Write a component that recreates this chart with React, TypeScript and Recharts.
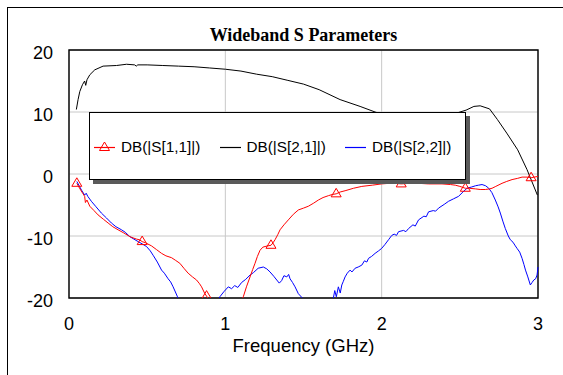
import React from 'react'
import {
  LineChart,
  Line,
  XAxis,
  YAxis,
  CartesianGrid,
  Legend,
  ReferenceArea,
  Label,
} from 'recharts'

// S11 (input return loss), GHz / dB
const S11_FREQ = [
  0.05, 0.07, 0.09, 0.1, 0.105, 0.115, 0.133, 0.16, 0.186, 0.22, 0.25, 0.28, 0.314, 0.35, 0.389, 0.41,
  0.432, 0.45, 0.468, 0.49, 0.528, 0.56, 0.592, 0.62, 0.656, 0.68, 0.709, 0.735, 0.762, 0.79, 0.816,
  0.835, 0.848, 0.869, 0.88, 0.9, 0.92, 1.08, 1.1, 1.115, 1.135, 1.158, 1.175, 1.19, 1.205, 1.222, 1.24,
  1.254, 1.27, 1.292, 1.305, 1.318, 1.335, 1.35, 1.375, 1.403, 1.435, 1.467, 1.5, 1.531, 1.565, 1.595,
  1.625, 1.659, 1.685, 1.709, 1.735, 1.766, 1.82, 1.873, 1.94, 2.0, 2.05, 2.087, 2.125, 2.18, 2.234,
  2.3, 2.386, 2.44, 2.471, 2.5, 2.535, 2.56, 2.6, 2.63, 2.663, 2.69, 2.706, 2.73, 2.77, 2.8, 2.834,
  2.87, 2.898, 2.93, 2.956, 2.975, 3.0,
]
const S11_DB = [
  -1.5, -2.4, -3.2, -3.6, -4.6, -4.2, -5.2, -5.9, -6.6, -7.3, -7.9, -8.5, -9.0, -9.5, -10.1, -10.3,
  -10.5, -10.6, -10.9, -11.1, -11.6, -12.2, -12.8, -13.2, -13.5, -13.9, -14.4, -15.2, -16.0, -16.6, -17.1,
  -17.7, -18.2, -19.3, -19.7, -20.5, -21.5, -21.5, -20.5, -19.8, -18.2, -16.6, -15.4, -14.4, -13.3, -12.3, -11.8,
  -11.7, -11.6, -11.5, -11.1, -10.6, -9.8, -9.0, -8.2, -7.4, -6.5, -5.8, -5.5, -5.2, -4.7, -4.2,
  -3.8, -3.5, -3.3, -3.2, -2.9, -2.7, -2.3, -2.0, -1.8, -1.6, -1.5, -1.5, -1.6, -1.5, -1.5,
  -1.6, -1.6, -1.7, -1.8, -2.0, -2.3, -2.3, -2.4, -2.5, -2.5, -2.4, -2.3, -2.0, -1.5, -1.2, -0.9,
  -0.7, -0.5, -0.5, -0.6, -0.5, -0.4,
]
// frequencies that carry a triangle marker on S11
const S11_MARKERS = [0.05, 0.468, 0.88, 1.292, 1.709, 2.125, 2.535, 2.956]

// S21 (gain)
const S21_FREQ = [
  0.047, 0.058, 0.069, 0.086, 0.1, 0.107, 0.115, 0.133, 0.165, 0.218, 0.304, 0.368, 0.42, 0.43, 0.44,
  0.5, 0.6, 0.7, 0.8, 0.9, 1.0, 1.1, 1.2, 1.3, 1.4, 1.5, 1.6, 1.734, 1.862, 1.958, 2.05, 2.2, 2.35,
  2.45, 2.54, 2.59, 2.63, 2.69, 2.74, 2.8, 2.87, 2.93, 2.996,
]
const S21_DB = [
  10.4, 12.0, 13.3, 14.4, 15.0, 14.3, 15.2, 16.0, 16.8, 17.4, 17.5, 17.7, 17.6, 17.4, 17.6,
  17.6, 17.5, 17.4, 17.3, 17.1, 16.9, 16.6, 16.1, 15.7, 15.1, 14.5, 13.6, 12.0, 10.9, 10.0, 9.3, 8.8, 9.0,
  9.6, 10.3, 10.9, 11.0, 10.5, 8.8, 6.6, 3.9, 0.7, -3.4,
]

// S22 (output return loss)
const S22_FREQ = [
  0.05, 0.08, 0.1, 0.11, 0.12, 0.143, 0.17, 0.207, 0.24, 0.271, 0.3, 0.336, 0.36, 0.389, 0.415, 0.442,
  0.47, 0.496, 0.52, 0.538, 0.565, 0.592, 0.61, 0.634, 0.65, 0.666, 0.694, 0.72, 0.93, 0.965, 0.99,
  1.019, 1.04, 1.06, 1.08, 1.104, 1.13, 1.158, 1.18, 1.21, 1.243, 1.265, 1.286, 1.31, 1.329, 1.345,
  1.36, 1.375, 1.393, 1.405, 1.414, 1.43, 1.446, 1.467, 1.489, 1.51, 1.67, 1.691, 1.7, 1.71, 1.723,
  1.735, 1.745, 1.755, 1.766, 1.78, 1.798, 1.81, 1.83, 1.85, 1.873, 1.89, 1.905, 1.916, 1.935, 1.958,
  1.98, 2.0, 2.02, 2.044, 2.065, 2.08, 2.095, 2.108, 2.14, 2.155, 2.172, 2.2, 2.215, 2.236, 2.27, 2.285,
  2.3, 2.33, 2.345, 2.364, 2.4, 2.428, 2.46, 2.492, 2.52, 2.546, 2.575, 2.6, 2.62, 2.642, 2.665, 2.685,
  2.705, 2.727, 2.745, 2.759, 2.775, 2.791, 2.81, 2.823, 2.84, 2.855, 2.866, 2.883, 2.898, 2.91, 2.92,
  2.935, 2.951, 2.962, 2.973, 2.985, 2.994, 3.0,
]
const S22_DB = [
  -1.2, -2.6, -3.4, -3.1, -3.6, -4.4, -5.2, -6.3, -7.1, -7.9, -8.5, -9.0, -9.4, -10.1, -10.5, -10.9,
  -11.3, -11.7, -12.4, -13.1, -14.2, -15.5, -16.0, -16.9, -17.4, -18.2, -19.8, -21.5, -21.5, -19.8, -19.0,
  -18.2, -18.5, -18.0, -18.3, -17.5, -17.0, -16.3, -15.9, -15.2, -15.0, -15.3, -15.8, -16.5, -17.1, -17.6,
  -17.2, -16.4, -16.6, -16.2, -16.9, -17.5, -18.2, -19.3, -19.9, -21.0, -21.0, -20.0, -18.8, -19.8, -18.2,
  -19.2, -17.9, -17.3, -16.6, -16.0, -15.5, -15.8, -15.2, -15.0, -14.7, -14.0, -14.2, -13.6, -13.3, -12.8,
  -12.4, -12.0, -11.4, -10.6, -9.9, -9.7, -9.9, -9.3, -9.1, -9.3, -8.8, -8.2, -8.4, -7.4, -6.8, -6.9,
  -6.1, -5.9, -6.0, -5.5, -4.9, -4.4, -4.0, -3.6, -2.9, -2.3, -2.1, -1.9, -1.8, -1.7, -1.9, -2.3,
  -3.0, -4.2, -5.3, -6.3, -7.6, -8.8, -10.0, -10.6, -11.0, -11.6, -12.0, -12.6, -13.6, -14.6, -15.5,
  -16.6, -17.9, -17.5, -17.1, -16.9, -16.3, -15.0,
]

const X_TICKS = [0, 1, 2, 3]
const Y_TICKS = [-20, -10, 0, 10, 20]

const zip = (f: number[], db: number[]) => f.map((v, i) => ({ f: v, db: db[i] }))
const s11 = zip(S11_FREQ, S11_DB)
const s21 = zip(S21_FREQ, S21_DB)
const s22 = zip(S22_FREQ, S22_DB)

const SANS = 'Arial, "Liberation Sans", sans-serif'

const LEGEND = [
  { name: 'DB(|S[1,1]|)', color: '#ff0000', marker: true },
  { name: 'DB(|S[2,1]|)', color: '#000000', marker: false },
  { name: 'DB(|S[2,2]|)', color: '#0000ff', marker: false },
]

function Triangle({ cx, cy, color }: { cx: number; cy: number; color: string }) {
  return (
    <path
      d={`M${cx},${cy - 5.5} L${cx + 5},${cy + 3} L${cx - 5},${cy + 3} Z`}
      fill="none"
      stroke={color}
      strokeWidth={1}
    />
  )
}

function S11Dot(props: any) {
  const { cx, cy, payload, index } = props
  if (!S11_MARKERS.includes(payload.f)) return <g key={`d${index}`} />
  return (
    <g key={`d${index}`}>
      <Triangle cx={cx} cy={cy} color="#ff0000" />
    </g>
  )
}

function LegendBox() {
  return (
    <div
      style={{
        position: 'relative',
        boxSizing: 'border-box',
        width: 377,
        height: 68,
        background: '#fff',
        border: '1px solid #000',
        boxShadow: '4px 4px 0 #5a5a5a',
        fontFamily: SANS,
        fontSize: 15.3,
        color: '#000',
      }}
    >
      {LEGEND.map((item, i) => (
        <div
          key={item.name}
          style={{
            position: 'absolute',
            left: 4 + i * 125.5,
            top: 24,
            height: 20,
            display: 'flex',
            alignItems: 'center',
            whiteSpace: 'nowrap',
          }}
        >
          <svg width={21} height={12} style={{ marginRight: 6 }}>
            <line x1={0} y1={6.5} x2={21} y2={6.5} stroke={item.color} strokeWidth={1.2} />
            {item.marker && <Triangle cx={10.5} cy={6.5} color={item.color} />}
          </svg>
          <span>{item.name}</span>
        </div>
      ))}
    </div>
  )
}

export default function App() {
  return (
    <div
      style={{
        position: 'fixed',
        left: 0,
        top: 0,
        width: 563,
        height: 375,
        background: '#fff',
        overflow: 'hidden',
      }}
    >
      <div
        style={{
          position: 'absolute',
          left: 7,
          top: 7,
          width: 620,
          height: 420,
          border: '1px solid #000',
        }}
      />
      <div
        style={{
          position: 'absolute',
          left: 153.5,
          top: 24,
          width: 300,
          lineHeight: '22px',
          textAlign: 'center',
          fontFamily: '"Times New Roman", "Liberation Serif", serif',
          fontWeight: 'bold',
          fontSize: 18,
          color: '#000',
        }}
      >
        Wideband S Parameters
      </div>
      <LineChart
        width={563}
        height={375}
        margin={{ top: 50, right: 25, bottom: 0, left: 0 }}
        style={{ position: 'absolute', left: 0, top: 0 }}
      >
        <CartesianGrid stroke="#c8c8c8" strokeWidth={1} />
        <XAxis
          dataKey="f"
          type="number"
          domain={[0, 3]}
          ticks={X_TICKS}
          height={77}
          axisLine={false}
          tickLine={false}
          tickSize={0}
          tickMargin={19}
          tick={{ fontSize: 18, fill: '#000', fontFamily: SANS }}
        >
          <Label
            value="Frequency (GHz)"
            position="insideBottom"
            offset={23}
            style={{ fontSize: 18.5, fill: '#000', fontFamily: SANS }}
          />
        </XAxis>
        <YAxis
          type="number"
          domain={[-20, 20]}
          ticks={Y_TICKS}
          allowDataOverflow
          width={69}
          axisLine={false}
          tickLine={false}
          tickSize={0}
          tickMargin={16}
          tick={{ fontSize: 18, fill: '#000', fontFamily: SANS, dy: 2.5 }}
        />
        <Line
          data={s22}
          dataKey="db"
          stroke="#0000ff"
          strokeWidth={1}
          dot={false}
          activeDot={false}
          isAnimationActive={false}
        />
        <Line
          data={s21}
          dataKey="db"
          stroke="#000000"
          strokeWidth={1}
          dot={false}
          activeDot={false}
          isAnimationActive={false}
        />
        <Line
          data={s11}
          dataKey="db"
          stroke="#ff0000"
          strokeWidth={1}
          dot={S11Dot}
          activeDot={false}
          isAnimationActive={false}
        />
        <ReferenceArea
          x1={0}
          x2={3}
          y1={-20}
          y2={20}
          fill="none"
          stroke="#000"
          strokeWidth={1.4}
          ifOverflow="visible"
        />
        <Legend
          layout="horizontal"
          verticalAlign="middle"
          align="center"
          content={() => <LegendBox />}
          wrapperStyle={{ left: 89, top: 112, width: 377, height: 68 }}
        />
      </LineChart>
    </div>
  )
}
